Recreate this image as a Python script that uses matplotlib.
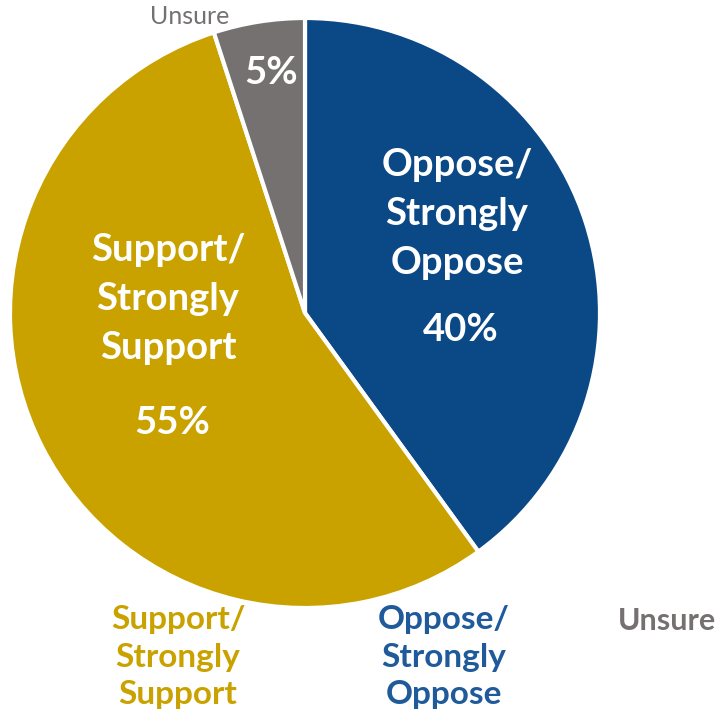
import matplotlib
matplotlib.use('Agg')
import matplotlib.pyplot as plt

# Chart data
labels = ['Oppose/\nStrongly\nOppose', 'Support/\nStrongly\nSupport', 'Unsure']
values = [40, 55, 5]
colors = ['#0B4886', '#C9A200', '#767171']
legend_colors = ['#1F5A9A', '#C9A200', '#767171']

plt.rcParams['font.family'] = ['Lato', 'DejaVu Sans']

W, H = 715, 713
fig = plt.figure(figsize=(W / 100, H / 100), dpi=100)
ax = fig.add_axes([0, 0, 1, 1])

cx, cy, r = 305, H - 313, 295
wedges, _ = ax.pie(values, colors=colors, startangle=90, counterclock=False,
                   center=(cx, cy), radius=r,
                   wedgeprops={'edgecolor': 'white', 'linewidth': 3})
ax.set_xlim(0, W)
ax.set_ylim(0, H)
ax.set_aspect('equal')
ax.axis('off')

big = 27.5
# labels inside slices
ax.text(457, H - 214, labels[0], color='white', fontsize=big, fontweight='bold',
        ha='center', va='center', linespacing=1.55)
ax.text(461, H - 330, f'{values[0]}%', color='white', fontsize=big,
        fontweight='bold', ha='center', va='center')
ax.text(168, H - 299, labels[1], color='white', fontsize=big, fontweight='bold',
        ha='center', va='center', linespacing=1.55)
ax.text(172, H - 423, f'{values[1]}%', color='white', fontsize=big,
        fontweight='bold', ha='center', va='center')
ax.text(271, H - 73, f'{values[2]}%', color='white', fontsize=big,
        fontweight='bold', ha='center', va='center')
ax.text(190, H - 16, labels[2], color='#767171', fontsize=18,
        ha='center', va='center')

# legend-style labels at the bottom
ax.text(178, H - 657, labels[1], color=legend_colors[1], fontsize=24,
        fontweight='bold', ha='center', va='center', linespacing=1.34)
ax.text(444, H - 657, labels[0], color=legend_colors[0], fontsize=24,
        fontweight='bold', ha='center', va='center', linespacing=1.34)
ax.text(667, H - 621, labels[2], color=legend_colors[2], fontsize=22,
        fontweight='bold', ha='center', va='center')

fig.savefig('out.png', dpi=100)
